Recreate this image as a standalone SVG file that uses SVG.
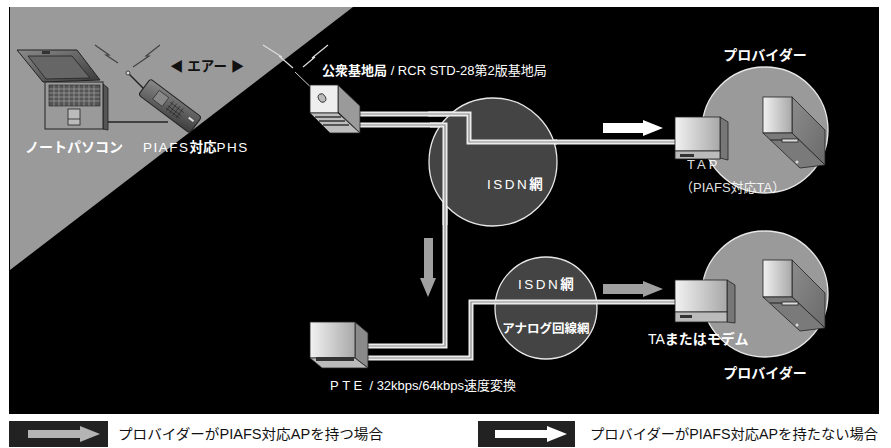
<svg xmlns="http://www.w3.org/2000/svg" width="891" height="448" viewBox="0 0 891 448">
  <defs>
    <linearGradient id="face" x1="0" y1="0" x2="1" y2="0">
      <stop offset="0" stop-color="#f2f2f2"/>
      <stop offset="1" stop-color="#a8a8a8"/>
    </linearGradient>
    <linearGradient id="side" x1="0" y1="0" x2="1" y2="1">
      <stop offset="0" stop-color="#8c8c8c"/>
      <stop offset="1" stop-color="#6a6a6a"/>
    </linearGradient>
    <linearGradient id="lap" x1="0" y1="0" x2="1" y2="1">
      <stop offset="0" stop-color="#8a8a8a"/>
      <stop offset="1" stop-color="#3a3a3a"/>
    </linearGradient>
  </defs>
  <style>
    .t { font-family: "Liberation Sans", "Noto Sans CJK JP", sans-serif; fill: #ffffff; }
    .b { font-weight: bold; }
    .dark { fill: #111111; }
    .wire { fill: none; stroke: #ececec; stroke-width: 5; stroke-linejoin: miter; }
    .core { fill: none; stroke: #8a8a8a; stroke-width: 1.2; }
    .edge { stroke: #222; stroke-width: 0.8; }
    .bolt { fill: none; stroke-width: 1.2; }
  </style>

  <!-- backdrop -->
  <rect x="9" y="7" width="870" height="407" fill="#000"/>
  <polygon points="10,7 353,7 10,270" fill="#9a9a9a"/>

  <!-- connectors -->
  <g id="connectors">
    <path class="wire" d="M360,114 H469 V142 H676"/>
    <path class="core" d="M360,114 H469 V142 H676"/>
    <path class="wire" d="M360,125 H445 V346 H368"/>
    <path class="core" d="M360,125 H445 V346 H368"/>
    <path class="wire" d="M368,358 H471 V302 H676"/>
    <path class="core" d="M368,358 H471 V302 H676"/>
    <line x1="728" y1="140" x2="772" y2="140" stroke="#e0e0e0" stroke-width="3.5"/>
    <line x1="728" y1="301" x2="772" y2="301" stroke="#e0e0e0" stroke-width="3.5"/>
    <!-- flow arrows -->
    <polygon points="603,123 643,123 643,120 663,128 643,136 643,133 603,133" fill="#ffffff"/>
    <polygon points="603,284 643,284 643,281 663,289 643,297 643,294 603,294" fill="#a0a0a0"/>
    <polygon points="424,238 433,238 433,278 436,278 428,297 420,278 424,278" fill="#a0a0a0"/>
    <!-- handset cable -->
    <line x1="108" y1="122" x2="168" y2="122" stroke="#222" stroke-width="1.5"/>
  </g>

  <!-- ISDN network (upper) -->
  <g id="isdn1">
    <circle cx="493" cy="162" r="64" fill="#444" stroke="#e8e8e8" stroke-width="1.3"/>
    <path class="wire" d="M428,114 H469 V142 H557"/>
    <path class="core" d="M428,114 H469 V142 H557"/>
    <path class="wire" d="M430,125 H445 V225"/>
    <path class="core" d="M430,125 H445 V225"/>
    <text class="t" x="487" y="189" font-size="13.5" letter-spacing="2.5">ISDN<tspan class="b" letter-spacing="0">網</tspan></text>
  </g>

  <!-- ISDN / analogue network (lower) -->
  <g id="isdn2">
    <circle cx="546" cy="308" r="51" fill="#444" stroke="#e8e8e8" stroke-width="1.3"/>
    <path class="wire" d="M495,302 H597"/>
    <path class="core" d="M495,302 H597"/>
    <text class="t" x="518" y="289" font-size="13.5" letter-spacing="2.5">ISDN<tspan class="b" letter-spacing="0">網</tspan></text>
    <text class="t b" x="546" y="333" font-size="12.5" text-anchor="middle">アナログ回線網</text>
  </g>

  <!-- provider (upper) -->
  <g id="provider1">
    <circle cx="765" cy="130" r="63" fill="#9a9a9a" stroke="#e8e8e8" stroke-width="1.3"/>
    <polygon points="792,97 825,130 825,165 792,133" fill="url(#side)" class="edge"/>
    <rect x="763" y="97" width="29" height="36" fill="url(#face)" class="edge"/>
    <polygon points="763,133 792,133 825,165 800,168" fill="#7a7a7a" class="edge"/>
    <line x1="770" y1="140" x2="797" y2="140" stroke="#222" stroke-width="1"/>
    <rect x="782" y="139" width="16" height="3" fill="#ddd" class="edge"/>
    <circle cx="797" cy="162" r="1.5" fill="#ddd"/>
    <text class="t b" x="765" y="60" font-size="14" text-anchor="middle">プロバイダー</text>
  </g>

  <!-- provider (lower) -->
  <g id="provider2">
    <circle cx="765" cy="294" r="63" fill="#9a9a9a" stroke="#e8e8e8" stroke-width="1.3"/>
    <polygon points="792,260 825,293 825,328 792,297" fill="url(#side)" class="edge"/>
    <rect x="763" y="260" width="29" height="37" fill="url(#face)" class="edge"/>
    <polygon points="763,297 792,297 825,328 800,331" fill="#7a7a7a" class="edge"/>
    <line x1="770" y1="303" x2="797" y2="303" stroke="#222" stroke-width="1"/>
    <rect x="782" y="302" width="16" height="3" fill="#ddd" class="edge"/>
    <circle cx="797" cy="325" r="1.5" fill="#ddd"/>
    <text class="t b" x="765" y="378" font-size="14" text-anchor="middle">プロバイダー</text>
  </g>

  <!-- TAP -->
  <g id="tap">
    <polygon points="720,117 728,122 728,160 720,158" fill="#777" class="edge"/>
    <rect x="675" y="117" width="45" height="34" fill="url(#face)" class="edge"/>
    <rect x="675" y="151" width="45" height="8" fill="#bbb" class="edge"/>
    <rect x="680" y="154" width="14" height="3" fill="#333"/>
    <text class="t" x="687" y="169" font-size="13" letter-spacing="3" fill-opacity="0.9">TAP</text>
    <text class="t" x="680" y="192" font-size="13" fill-opacity="0.9">（PIAFS対応TA）</text>
  </g>

  <!-- TA / modem -->
  <g id="ta">
    <polygon points="727,280 735,285 735,323 727,322" fill="#777" class="edge"/>
    <rect x="675" y="280" width="52" height="32" fill="url(#face)" class="edge"/>
    <rect x="675" y="312" width="52" height="10" fill="#bbb" class="edge"/>
    <rect x="680" y="315" width="12" height="3" fill="#333"/>
    <text class="t" x="648" y="344" font-size="14">TA<tspan class="b">またはモデム</tspan></text>
  </g>

  <!-- PTE -->
  <g id="pte">
    <polygon points="355,322 368,333 368,368 355,358" fill="#8a8a8a" class="edge"/>
    <rect x="310" y="322" width="45" height="36" fill="url(#face)" class="edge"/>
    <polygon points="310,358 355,358 368,368 322,368" fill="#bbb" class="edge"/>
    <rect x="316" y="357" width="38" height="4" fill="#333"/>
    <text class="t" x="330" y="390" font-size="13" fill="#e8e8e8"><tspan letter-spacing="3.5">PTE</tspan> / 32kbps/64kbps速度変換</text>
  </g>

  <!-- public base station -->
  <g id="base">
    <path class="bolt" stroke="#dddddd" d="M263,45 L282,57 L279,56 L293,68"/>
    <path class="bolt" stroke="#dddddd" d="M328,45 L312,58 L315,57 L303,67"/>
    <line x1="295" y1="72" x2="320" y2="96" stroke="#ccc" stroke-width="1"/>
    <polygon points="338,85 360,106 360,133 338,112" fill="#9a9a9a" class="edge"/>
    <rect x="310" y="85" width="28" height="28" fill="#eeeeee" class="edge"/>
    <polygon points="310,113 338,113 360,133 330,133" fill="#bdbdbd" class="edge"/>
    <line x1="315" y1="117" x2="341" y2="117" stroke="#333" stroke-width="1.5"/>
    <line x1="319" y1="121" x2="345" y2="121" stroke="#333" stroke-width="1.5"/>
    <line x1="323" y1="125" x2="349" y2="125" stroke="#333" stroke-width="1.5"/>
    <ellipse cx="322" cy="98" rx="3.5" ry="4.5" fill="#bbb" stroke="#222" stroke-width="0.8" transform="rotate(-30 322 98)"/>
    <text class="t" x="322" y="75" font-size="13"><tspan class="b">公衆基地局</tspan> / RCR STD-28第2版基地局</text>
  </g>

  <!-- notebook PC -->
  <g id="laptop">
    <polygon points="17,50 77,50 100,80 43,82" fill="url(#lap)" stroke="#222" stroke-width="1"/>
    <polygon points="28,56 72,56 90,78 46,79" fill="#666" stroke="#222" stroke-width="0.8"/>
    <rect x="42" y="51" width="8" height="3" fill="#333"/>
    <polygon points="103,84 108,88 108,130 103,129" fill="#555" stroke="#222" stroke-width="0.8"/>
    <rect x="45" y="82" width="58" height="47" fill="#9a9a9a" stroke="#222" stroke-width="1"/>
    <rect x="49" y="85" width="51" height="21" fill="#555" stroke="#222" stroke-width="0.6"/>
    <path d="M49,89 H100 M49,93 H100 M49,97 H100 M49,101 H100 M54,85 V106 M59,85 V106 M64,85 V106 M69,85 V106 M74,85 V106 M79,85 V106 M84,85 V106 M89,85 V106 M94,85 V106" stroke="#bbb" stroke-width="0.5"/>
    <rect x="68" y="109" width="12" height="16" fill="#bbb" stroke="#222" stroke-width="0.8"/>
    <line x1="68" y1="119" x2="80" y2="119" stroke="#222" stroke-width="0.8"/>
    <text class="t b" x="25" y="152" font-size="14">ノートパソコン</text>
  </g>

  <!-- PIAFS PHS handset -->
  <g id="phs">
    <path class="bolt" stroke="#444" d="M95,45 L109,55 L106,55 L118,63"/>
    <path class="bolt" stroke="#444" d="M160,45 L146,56 L149,56 L133,67"/>
    <line x1="128" y1="73" x2="146" y2="91" stroke="#222" stroke-width="1.5"/>
    <circle cx="128" cy="73" r="2" fill="#ddd" stroke="#222" stroke-width="0.8"/>
    <g transform="translate(170,106) rotate(37)">
      <rect x="-32" y="-10" width="64" height="20" rx="3" fill="url(#lap)" stroke="#222" stroke-width="1"/>
      <rect x="-18" y="-6" width="12" height="11" fill="#888" stroke="#222" stroke-width="0.6"/>
      <path d="M0,-6 V6 M4,-6 V6 M8,-6 V6 M12,-6 V6 M-2,-3 H15 M-2,1 H15 M-2,4 H15" stroke="#222" stroke-width="0.6"/>
      <rect x="22" y="-3" width="6" height="2" fill="#ddd"/>
    </g>
    <text class="t" x="143" y="152" font-size="13.5" letter-spacing="1.5">PIAFS<tspan class="b" letter-spacing="0">対応</tspan>PHS</text>
    <text class="t b dark" x="170" y="71" font-size="13.5">◀ エアー ▶</text>
  </g>

  <!-- legend -->
  <g id="legend">
    <rect x="9" y="421" width="99" height="26" fill="#222"/>
    <polygon points="28,430 80,430 80,426 100,434 80,442 80,438 28,438" fill="#b4b4b4"/>
    <text class="t dark" x="118" y="439" font-size="14" textLength="265" lengthAdjust="spacingAndGlyphs">プロバイダーがPIAFS対応APを持つ場合</text>
    <rect x="478" y="421" width="97" height="26" fill="#222"/>
    <polygon points="495,430 547,430 547,426 567,434 547,442 547,438 495,438" fill="#ffffff"/>
    <text class="t dark" x="590" y="439" font-size="14" textLength="288" lengthAdjust="spacingAndGlyphs">プロバイダーがPIAFS対応APを持たない場合</text>
  </g>
</svg>
